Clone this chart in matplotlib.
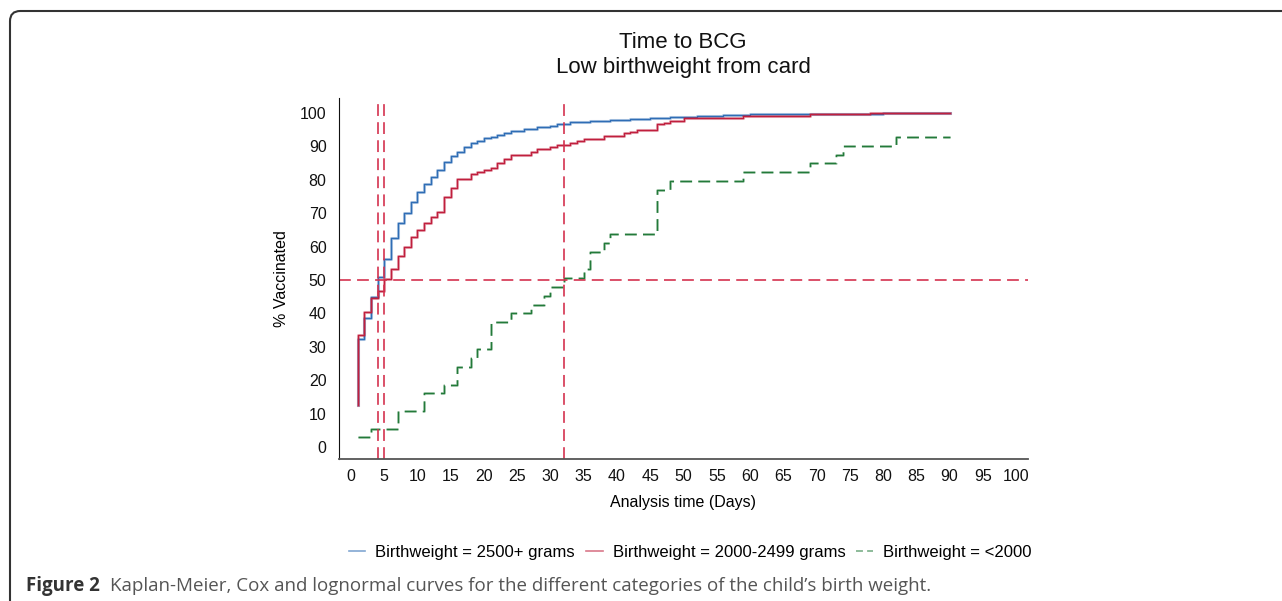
import matplotlib.pyplot as plt
from matplotlib.lines import Line2D
from matplotlib.patches import FancyBboxPatch

plt.rcParams["font.family"] = ["Liberation Sans", "DejaVu Sans"]
plt.rcParams["lines.scale_dashes"] = False

# Kaplan-Meier steps (days, % vaccinated)
t_2500 = [1, 1, 2, 3, 4, 5, 6, 7, 8, 9, 10, 11, 12, 13, 14, 15, 16, 17, 18, 19, 20,
          21, 22, 23, 24, 26, 28, 30, 31, 33, 36, 39, 42, 45, 48, 52, 56, 60, 66,
          72, 80, 90]
v_2500 = [12.5, 32.2, 38.7, 45.0, 51.0, 56.2, 62.5, 67.0, 70.0, 73.3, 76.4, 78.7,
          80.9, 82.9, 85.4, 87.1, 88.4, 89.9, 90.9, 91.7, 92.4, 92.9, 93.4, 94.0,
          94.6, 95.2, 95.7, 96.2, 96.7, 97.2, 97.6, 98.0, 98.3, 98.6, 98.9, 99.2,
          99.4, 99.6, 99.75, 99.85, 100.0, 100.0]

t_2000 = [1, 1, 2, 3, 4, 5, 6, 7, 8, 9, 10, 11, 12, 13, 14, 15, 16, 18, 19, 20,
          21, 22, 23, 24, 27, 28, 30, 31, 33, 34, 35, 38, 41, 42, 43, 46, 47, 48,
          50, 59, 69, 78, 90]
v_2000 = [12.5, 33.5, 40.3, 44.7, 46.7, 50.3, 53.3, 57.3, 60.0, 63.0, 65.0, 67.2,
          68.8, 70.3, 74.9, 77.6, 80.2, 81.7, 82.4, 82.9, 83.6, 84.9, 86.3, 87.4,
          88.2, 89.1, 89.7, 90.4, 91.1, 91.7, 92.3, 93.2, 93.9, 94.4, 94.9, 96.6,
          97.1, 97.5, 98.6, 99.2, 99.7, 100.0, 100.0]

t_low = [1, 3, 7, 11, 14, 16, 18, 19, 21, 24, 27, 29, 30, 32, 35, 36, 38, 39, 46,
         48, 59, 69, 73, 74, 82, 90]
v_low = [2.9, 5.5, 10.8, 16.1, 18.7, 24.0, 26.6, 29.3, 37.3, 40.0, 42.5, 45.2,
         47.8, 50.5, 53.2, 58.4, 61.0, 63.7, 76.9, 79.6, 82.2, 84.9, 87.5, 90.1,
         92.7, 92.7]

# median times marked with reference lines
median_days = [4, 5, 32]
median_level = 50

x_ticks = list(range(0, 101, 5))
y_ticks = list(range(0, 101, 10))

labels = ["Birthweight = 2500+ grams", "Birthweight = 2000-2499 grams",
          "Birthweight = <2000"]

BLUE = "#2f6db5"
RED = "#c01f3d"
GREEN = "#237a3a"
REF = "#d4324f"

W, H = 1282, 601
fig = plt.figure(figsize=(W / 100, H / 100), dpi=100)

# rounded frame of the figure panel (runs off the right and bottom edges)
frame = FancyBboxPatch((10 / W, -0.2), 1.3, 1.2 - 11 / H,
                       boxstyle="round,pad=0,rounding_size=0.008",
                       transform=fig.transFigure, fill=False, ec="#333333", lw=1.5,
                       mutation_aspect=W / H)
fig.add_artist(frame)

ax = fig.add_axes([339 / W, 1 - 459 / H, (1028 - 339) / W, (459 - 98) / H])

ax.step(t_2500, v_2500, where="post", color=BLUE, lw=2.2, alpha=0.35)
ax.step(t_2500, v_2500, where="post", color=BLUE, lw=1.0)
ax.step(t_2000, v_2000, where="post", color=RED, lw=2.2, alpha=0.35)
ax.step(t_2000, v_2000, where="post", color=RED, lw=1.0)
ax.step(t_low, v_low, where="post", color=GREEN, lw=2.0, alpha=0.35, dashes=(8.5, 4.5))
ax.step(t_low, v_low, where="post", color=GREEN, lw=1.0, dashes=(8.5, 4.5))

ax.axhline(median_level, color=REF, lw=1.2, dashes=(8.5, 4.5))
for d in median_days:
    ax.axvline(d, color=REF, lw=1.2, dashes=(8.5, 4.5))

ax.set_xlim(-1.8, 101.8)
ax.set_ylim(-3.6, 104.5)
ax.set_xticks(x_ticks)
ax.set_yticks(y_ticks)
ax.tick_params(axis="both", length=0, labelsize=11.5, colors="#111111")
ax.tick_params(axis="y", pad=9)
ax.tick_params(axis="x", pad=7)
for s in ["top", "right"]:
    ax.spines[s].set_visible(False)
ax.spines["left"].set_color("#111111")
ax.spines["bottom"].set_color("#555555")
ax.spines["bottom"].set_linewidth(1.3)

ax.set_ylabel("% Vaccinated", fontsize=11.5, labelpad=8)
ax.set_xlabel("Analysis time (Days)", fontsize=11.5, labelpad=8)

fig.text(683 / W, 1 - 55.5 / H, "Time to BCG\nLow birthweight from card", ha="center",
         va="center", fontsize=16, linespacing=1.25, color="#111111")

handles = [Line2D([], [], color=BLUE, lw=1.2, alpha=0.6),
           Line2D([], [], color=RED, lw=1.2, alpha=0.6),
           Line2D([], [], color=GREEN, lw=1.2, alpha=0.6, dashes=(5, 3))]
fig.legend(handles, labels, loc="center", bbox_to_anchor=(690 / W, 1 - 552 / H),
           ncol=3, frameon=False, fontsize=12, handlelength=1.0, handletextpad=0.6,
           columnspacing=0.65)

fig.text(26 / W, 1 - 586 / H, "Figure 2", fontsize=13.5, fontweight="bold",
         family="Open Sans", color="#333333", va="center")
fig.text(110 / W, 1 - 586 / H,
         "Kaplan-Meier, Cox and lognormal curves for the different categories of "
         "the child\u2019s birth weight.", fontsize=13.5, family="Open Sans",
         color="#555555", va="center")

fig.savefig("out.png", dpi=100)
